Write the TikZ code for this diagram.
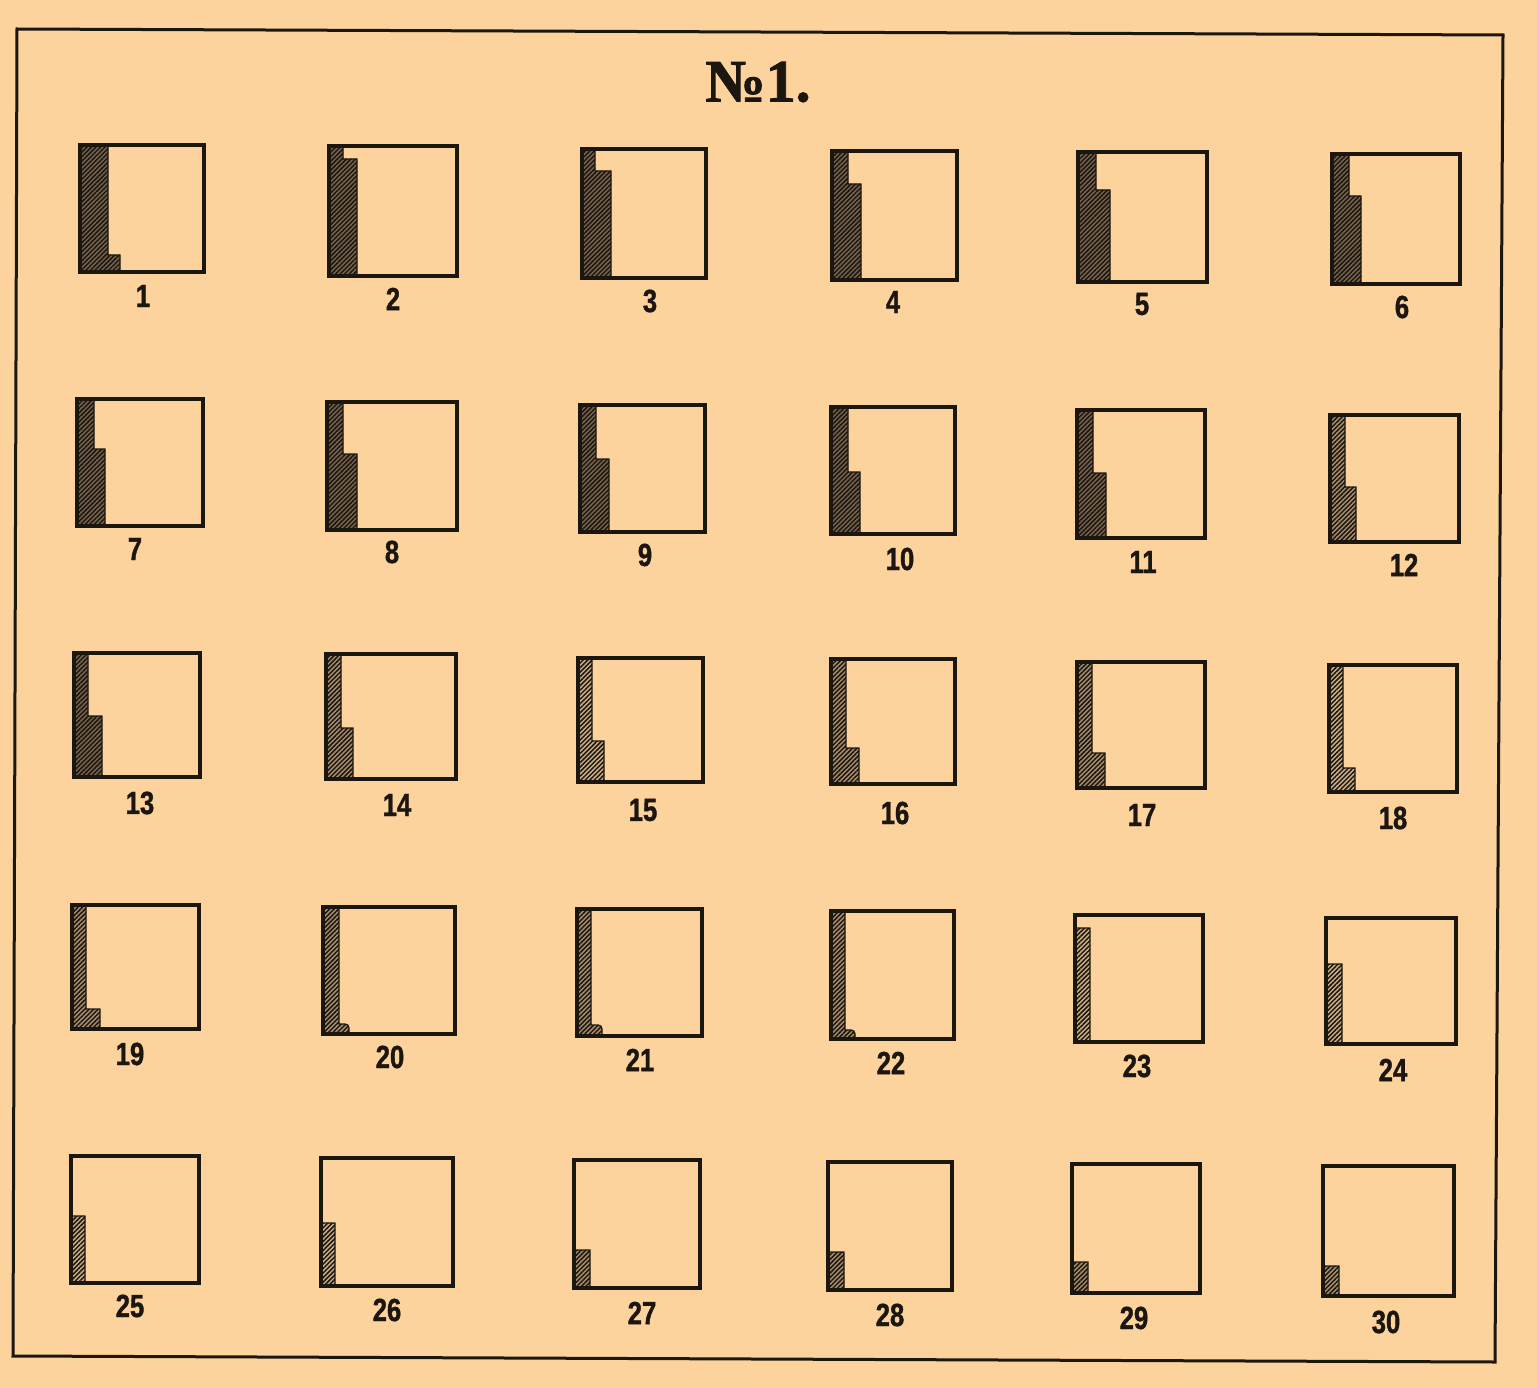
\documentclass[tikz,border=0pt]{standalone}
\usepackage{fontspec}
\usetikzlibrary{patterns.meta}
\newfontfamily\numfont[FakeStretch=0.8,FakeBold=1.2]{Liberation Sans}
\newfontfamily\titlefont[FakeBold=1.5]{Liberation Serif}
\definecolor{paper}{RGB}{252,211,156}
\definecolor{ink}{RGB}{28,22,16}
\definecolor{hdarkc}{RGB}{120,100,78}
\definecolor{hmedc}{RGB}{168,142,108}
\definecolor{hlightc}{RGB}{206,176,134}
\tikzset{
  boxline/.style={draw=ink, line width=3.3pt, line join=miter},
  frameline/.style={draw=ink, line width=3pt},
  numlab/.style={inner sep=0pt, font=\numfont\bfseries\fontsize{32}{32}\selectfont, text=ink},
  titlelab/.style={inner sep=0pt, font=\titlefont\bfseries\fontsize{60}{60}\selectfont, text=ink}
}
\begin{document}
\begin{tikzpicture}[x=1pt,y=-1pt]
\useasboundingbox (0,0) rectangle (1537,1388);
\fill[paper] (0,0) rectangle (1537,1388);
\coordinate (f1) at (17,29);
\coordinate (f2) at (1503,35);
\coordinate (f3) at (1495,1362);
\coordinate (f4) at (13,1356);
\draw[frameline] (f1) -- (f2) -- (f3) -- (f4) -- cycle;
\node[titlelab] (title) at (758,82) {№1.};
\foreach \n/\x/\y/\w/\h/\a/\s/\b/\hf/\lx/\ly/\r in {
 1/80/145/124/127/28/110/40/hdarkc/143/296/0.01,
 2/329/146/128/130/14/13/28/hdarkc/393/299/0.01,
 3/582/149/124/129/13/22/29/hdarkc/650/301/0.01,
 4/832/151/125/129/16/33/29/hdarkc/893/302/0.01,
 5/1078/152/129/130/18/38/32/hdarkc/1142/304/0.01,
 6/1332/154/128/130/17/42/29/hdarkc/1402/307/0.01,
 7/77/399/126/127/17/50/28/hdarkc/135/549/0.01,
 8/327/402/130/128/16/52/30/hdarkc/392/552/0.01,
 9/580/405/125/127/16/54/29/hdarkc/645/555/0.01,
 10/831/407/124/127/17/65/29/hdarkc/900/559/0.01,
 11/1077/410/128/128/16/63/29/hdarkc/1143/562/0.01,
 12/1330/415/129/127/15/72/26/hmedc/1404/565/0.01,
 13/74/653/126/124/14/63/28/hdarkc/140/803/0.01,
 14/326/654/130/125/15/74/27/hmedc/397/805/0.01,
 15/578/658/125/124/14/83/26/hlightc/643/810/0.01,
 16/831/659/124/125/15/89/28/hmedc/895/813/0.01,
 17/1077/662/128/126/15/91/28/hmedc/1142/815/0.01,
 18/1329/665/128/127/14/103/26/hlightc/1393/818/0.01,
 19/72/905/127/124/14/104/28/hmedc/130/1054/0.01,
 20/323/907/132/127/16/117/26/hmedc/390/1057/4,
 21/577/909/125/127/14/116/25/hmedc/640/1060/4,
 22/831/911/123/128/14/119/24/hmedc/891/1063/4,
 23/1075/915/128/127/0/13/15/hlightc/1137/1066/0.01,
 24/1326/918/130/126/0/46/16/hlightc/1393/1070/0.01,
 25/71/1156/128/127/0/60/14/hlightc/130/1306/0.01,
 26/321/1158/132/128/0/65/14/hlightc/387/1310/0.01,
 27/574/1160/126/128/0/90/16/hmedc/642/1313/0.01,
 28/828/1162/124/128/0/90/16/hmedc/890/1315/0.01,
 29/1072/1164/128/129/0/98/16/hmedc/1134/1318/0.01,
 30/1323/1166/131/130/0/100/16/hmedc/1386/1322/0.01}
{
  \path[preaction={fill=\hf}, pattern={Lines[angle=45,distance=3.2pt,line width=1.5pt]}, pattern color=ink, draw=ink, line width=1.4pt]
    (\x,\y) -- ++(\a,0) -- ++(0,\s) [rounded corners=\r pt] -- (\x+\b,\y+\s) [sharp corners] -- (\x+\b,\y+\h) -- (\x,\y+\h) -- cycle;
  \draw[boxline] (\x,\y) rectangle ++(\w,\h);
  \node[numlab] (lab\n) at (\lx,\ly) {\n};
}
\end{tikzpicture}
\end{document}
